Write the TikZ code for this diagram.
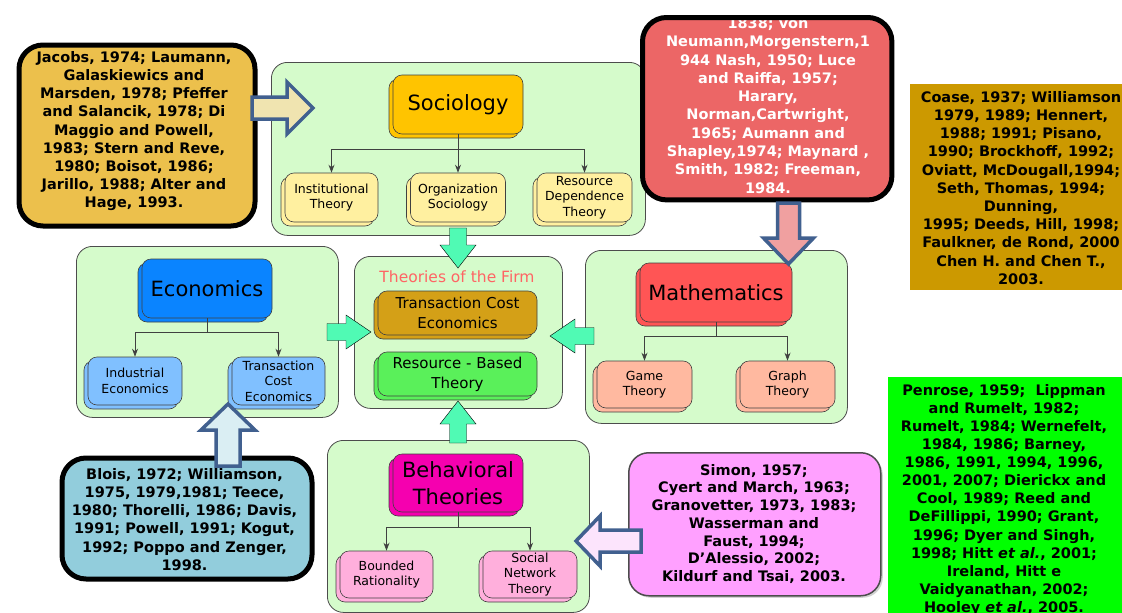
\documentclass[tikz,border=0pt]{standalone}
\usepackage{fontspec}
\setmainfont{DejaVu Sans}
\usetikzlibrary{arrows.meta,shadows}

% group and node colours
\definecolor{grp}{RGB}{213,251,203}
\definecolor{soc}{RGB}{255,196,0}
\definecolor{socl}{RGB}{255,240,160}
\definecolor{eco}{RGB}{10,132,255}
\definecolor{ecol}{RGB}{128,192,255}
\definecolor{mat}{RGB}{255,85,85}
\definecolor{matl}{RGB}{255,185,160}
\definecolor{beh}{RGB}{245,0,175}
\definecolor{behl}{RGB}{255,175,220}
\definecolor{tce}{RGB}{212,160,23}
\definecolor{rbt}{RGB}{90,240,90}
\definecolor{firm}{RGB}{255,100,100}
% reference boxes
\definecolor{citY}{RGB}{236,192,76}
\definecolor{citR}{RGB}{236,102,102}
\definecolor{citG}{RGB}{204,153,0}
\definecolor{citB}{RGB}{146,205,220}
\definecolor{citP}{RGB}{255,160,255}
\definecolor{citL}{RGB}{0,255,0}
% block arrows
\definecolor{barB}{RGB}{65,96,143}
\definecolor{aqua}{RGB}{80,250,180}
\definecolor{fillY}{RGB}{240,228,176}
\definecolor{fillR}{RGB}{240,160,160}
\definecolor{fillB}{RGB}{218,238,243}
\definecolor{fillP}{RGB}{252,228,252}

% horizontal block arrow: style, tail x, head base x, tip x, centre y, shaft half, head half
\newcommand\blockH[7]{%
  \draw[#1] (#2,#5-#6) -- (#3,#5-#6) -- (#3,#5-#7) -- (#4,#5) -- (#3,#5+#7)
    -- (#3,#5+#6) -- (#2,#5+#6) -- cycle;}
% vertical block arrow: style, tail y, head base y, tip y, centre x, shaft half, head half
\newcommand\blockV[7]{%
  \draw[#1] (#5-#6,#2) -- (#5-#6,#3) -- (#5-#7,#3) -- (#5,#4) -- (#5+#7,#3)
    -- (#5+#6,#3) -- (#5+#6,#2) -- cycle;}

\begin{document}
\begin{tikzpicture}[x=1pt,y=-1pt,
  grpbox/.style={draw=black!70, line width=0.8pt, fill=grp, rounded corners=16pt,
    anchor=north west, inner sep=0pt},
  tbox/.style={draw=black!75, line width=0.6pt, rounded corners=9pt, inner sep=1pt,
    align=center, copy shadow={shadow xshift=-4pt, shadow yshift=-4pt}},
  labbig/.style={font=\fontsize{21}{26.5}\selectfont},
  labsmall/.style={font=\fontsize{12.5}{15.5}\selectfont},
  labmid/.style={font=\fontsize{15}{20}\selectfont},
  cite/.style={rounded corners=24pt, anchor=north west, inner sep=0pt},
  citetext/.style={anchor=north, inner sep=0pt, align=center,
    font=\fontsize{14.5}{18.2}\selectfont\bfseries},
  conn/.style={draw=black!75, line width=0.8pt},
  tohead/.style={-{Stealth[length=8pt,width=6pt]}},
  outl/.style={draw=barB, line width=3.5pt, line join=miter},
  flow/.style={fill=aqua}
]
\useasboundingbox (0,0) rectangle (1122,613);
\clip (0,0) rectangle (1122,613);
\fill[white] (0,0) rectangle (1122,613);

% ---- group panels
\node[grpbox, minimum width=374pt, minimum height=173pt] (gsoc)  at (271,62)  {};
\node[grpbox, minimum width=262pt, minimum height=171pt] (geco)  at (76,246)  {};
\node[grpbox, minimum width=208pt, minimum height=152pt] (gfirm) at (354,256) {};
\node[grpbox, minimum width=262pt, minimum height=173pt] (gmat)  at (585,250) {};
\node[grpbox, minimum width=262pt, minimum height=172pt] (gbeh)  at (327,440) {};

% ---- reference boxes on the right edge
\node[anchor=north west, inner sep=0pt, fill=citG, minimum width=230pt, minimum height=206pt] (cG) at (910,84) {};
\node[citetext] (cGt) at (1021,91) {Coase, 1937; Williamson\\1979, 1989; Hennert,\\1988; 1991; Pisano,\\1990; Brockhoff, 1992;\\Oviatt, McDougall,1994;\\Seth, Thomas, 1994;\\Dunning,\\1995; Deeds, Hill, 1998;\\Faulkner, de Rond, 2000\\Chen H. and Chen T.,\\2003.};

\node[anchor=north west, inner sep=0pt, fill=citL, minimum width=250pt, minimum height=250pt] (cL) at (888,377) {};
\node[citetext, font=\fontsize{14.5}{18.1}\selectfont\bfseries] (cLt) at (1004,384) {Penrose, 1959;\ \ Lippman\\and Rumelt, 1982;\\Rumelt, 1984; Wernefelt,\\1984, 1986; Barney,\\1986, 1991, 1994, 1996,\\2001, 2007; Dierickx and\\Cool, 1989; Reed and\\DeFillippi, 1990; Grant,\\1996; Dyer and Singh,\\1998; Hitt \textit{et al.}, 2001;\\Ireland, Hitt e\\Vaidyanathan, 2002;\\Hooley \textit{et al.}, 2005.};

% ---- reference boxes with heavy borders
\node[cite, fill=citY, draw=black, line width=5pt, minimum width=236pt, minimum height=181pt] (cY) at (16.5,42.5) {};
\node[citetext] (cYt) at (134,51) {Jacobs, 1974; Laumann,\\Galaskiewics and\\Marsden, 1978; Pfeffer\\and Salancik, 1978; Di\\Maggio and Powell,\\1983; Stern and Reve,\\1980; Boisot, 1986;\\Jarillo, 1988; Alter and\\Hage, 1993.};

\node[cite, fill=citR, minimum width=249pt, minimum height=182pt] (cR) at (642.5,17.5) {};
\node[citetext, text=white, font=\fontsize{14.5}{18.3}\selectfont\bfseries] (cRt) at (768,17.5) {1838; von\\Neumann,Morgenstern,1\\944 Nash, 1950; Luce\\and Raiffa, 1957;\\Harary,\\Norman,Cartwright,\\1965; Aumann and\\Shapley,1974; Maynard ,\\Smith, 1982; Freeman,\\1984.};
\draw[line width=5pt, rounded corners=24pt] (cR.north west) rectangle (cR.south east);

\node[cite, fill=citB, draw=black, line width=5pt, minimum width=250pt, minimum height=121pt] (cB) at (59.5,455.5) {};
\node[citetext] (cBt) at (184.5,468) {Blois, 1972; Williamson,\\1975, 1979,1981; Teece,\\1980; Thorelli, 1986; Davis,\\1991; Powell, 1991; Kogut,\\1992; Poppo and Zenger,\\1998.};

\node[cite, rounded corners=20pt, fill=citP, draw=black!70, line width=1.5pt,
  drop shadow={shadow xshift=2pt, shadow yshift=-2pt, opacity=0.35},
  minimum width=252pt, minimum height=143pt] (cP) at (628,452) {};
\node[citetext, font=\fontsize{14.5}{17.7}\selectfont\bfseries] (cPt) at (754,464) {Simon, 1957;\\Cyert and March, 1963;\\Granovetter, 1973, 1983;\\Wasserman and\\Faust, 1994;\\D’Alessio, 2002;\\Kildurf and Tsai, 2003.};

% ---- Sociology
\node[tbox, fill=soc, labbig, minimum width=130pt, minimum height=59pt] (soc) at (458,104.5) {Sociology};
\node[tbox, fill=socl, labsmall, minimum width=93pt, minimum height=49pt] (inst) at (331.5,197.5) {Institutional\\Theory};
\node[tbox, fill=socl, labsmall, minimum width=95pt, minimum height=49pt] (org) at (458,197.5) {Organization\\Sociology};
\node[tbox, fill=socl, labsmall, minimum width=95pt, minimum height=49pt] (rdt) at (584.5,197.5) {Resource\\Dependence\\Theory};
\coordinate (socbar) at (458,149);
\draw[conn] (soc.south) -- (socbar);
\draw[conn, tohead] (socbar) -| (inst.north);
\draw[conn, tohead] (socbar) -- (org.north);
\draw[conn, tohead] (socbar) -| (rdt.north);

% ---- Economics
\node[tbox, fill=eco, labbig, minimum width=130pt, minimum height=59pt] (eco) at (207,288.5) {Economics};
\node[tbox, fill=ecol, labsmall, minimum width=94pt, minimum height=48pt] (ind) at (135,381) {Industrial\\Economics};
\node[tbox, fill=ecol, labsmall, minimum width=93pt, minimum height=48pt] (tcee) at (278.5,381) {Transaction\\Cost\\Economics};
\coordinate (ecobar) at (207,332);
\draw[conn] (eco.south) -- (ecobar);
\draw[conn, tohead] (ecobar) -| (ind.north);
\draw[conn, tohead] (ecobar) -| (tcee.north);

% ---- Theories of the Firm
\node[text=firm, font=\fontsize{15.5}{19}\selectfont, inner sep=0pt] (firmt) at (457,277) {Theories of the Firm};
\node[tbox, fill=tce, labmid, minimum width=159pt, minimum height=44pt] (tce) at (457.5,313) {Transaction Cost\\Economics};
\node[tbox, fill=rbt, labmid, minimum width=159pt, minimum height=44pt] (rbt) at (457.5,374) {Resource - Based\\Theory};

% ---- Mathematics
\node[tbox, fill=mat, labbig, minimum width=152pt, minimum height=59pt] (mat) at (716,292.5) {Mathematics};
\node[tbox, fill=matl, labsmall, minimum width=95pt, minimum height=47pt] (game) at (644.5,384.5) {Game\\Theory};
\node[tbox, fill=matl, labsmall, minimum width=95pt, minimum height=47pt] (graph) at (787.5,384.5) {Graph\\Theory};
\coordinate (matbar) at (716,336);
\draw[conn] (mat.south) -- (matbar);
\draw[conn, tohead] (matbar) -| (game.north);
\draw[conn, tohead] (matbar) -| (graph.north);

% ---- Behavioral Theories
\node[tbox, fill=beh, labbig, minimum width=130pt, minimum height=58pt] (beh) at (458,483) {Behavioral\\Theories};
\node[tbox, fill=behl, labsmall, minimum width=93pt, minimum height=47pt] (bound) at (386.5,574.5) {Bounded\\Rationality};
\node[tbox, fill=behl, labsmall, minimum width=94pt, minimum height=47pt] (sna) at (530,574.5) {Social\\Network\\Theory};
\coordinate (behbar) at (458,527);
\draw[conn] (beh.south) -- (behbar);
\draw[conn, tohead] (behbar) -| (bound.north);
\draw[conn, tohead] (behbar) -| (sna.north);

% ---- block arrows from the reference boxes
\blockH{outl, fill=fillY}{252}{287}{313}{108}{11}{26}
\blockV{outl, fill=fillR}{203}{238}{264}{788.5}{11}{25}
\blockV{outl, fill=fillB}{466}{430}{404}{228}{12}{27}
\blockH{outl, fill=fillP}{641}{600}{576}{541}{11}{25}

% ---- block arrows into the Theories of the Firm
\blockV{flow}{228}{245}{268}{458}{8.5}{18}
\blockH{flow}{327}{346}{371}{332}{8.5}{17}
\blockH{flow}{594}{575}{550}{336}{8.5}{17}
\blockV{flow}{443}{424}{401}{458}{8.5}{18}
\end{tikzpicture}
\end{document}
